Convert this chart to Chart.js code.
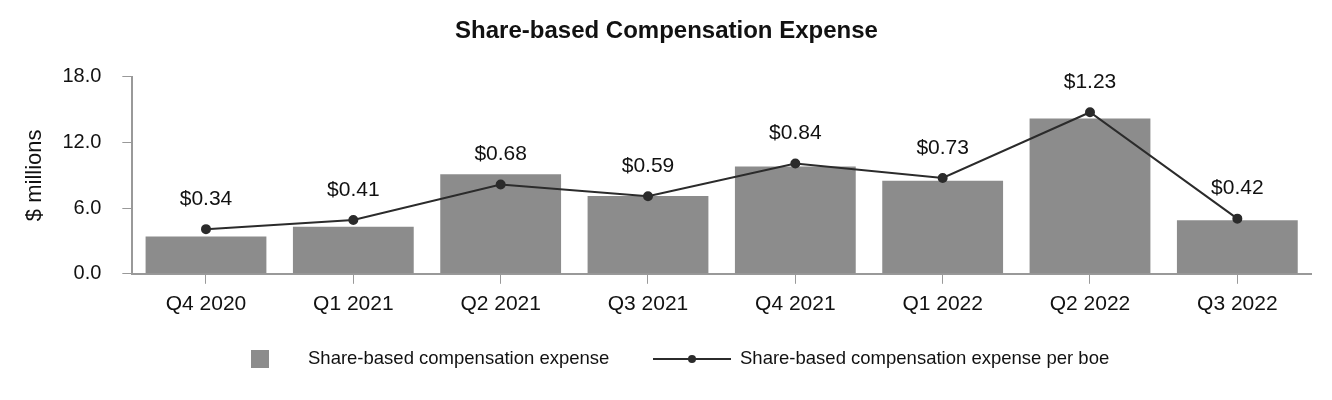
<!DOCTYPE html>
<html>
<head>
<meta charset="utf-8">
<script src="https://cdn.jsdelivr.net/npm/chart.js@4.4.0/dist/chart.umd.min.js"></script>
<style>
  html, body { margin: 0; padding: 0; background: #fff; }
  #wrap { width: 1332px; height: 400px; }
</style>
</head>
<body>
<div id="wrap"><canvas id="sbcChart"></canvas></div>
<script>
const quarters = ['Q4 2020', 'Q1 2021', 'Q2 2021', 'Q3 2021', 'Q4 2021', 'Q1 2022', 'Q2 2022', 'Q3 2022'];
const expense = [3.4, 4.3, 9.1, 7.1, 9.8, 8.5, 14.2, 4.9]; // $ millions
const perBoe = [0.34, 0.41, 0.68, 0.59, 0.84, 0.73, 1.23, 0.42]; // $ per boe
const yTicks = [0, 6, 12, 18];

const FONT = 'Liberation Sans, Arial, sans-serif';

// draws the $ labels above the line points
const pointLabels = {
  id: 'pointLabels',
  afterDatasetsDraw(chart) {
    const ctx = chart.ctx;
    const meta = chart.getDatasetMeta(1);
    ctx.save();
    ctx.font = '21px ' + FONT;
    ctx.fillStyle = '#111';
    ctx.textAlign = 'center';
    ctx.textBaseline = 'middle';
    meta.data.forEach((pt, i) => {
      ctx.fillText('$' + perBoe[i].toFixed(2), pt.x, pt.y - 30);
    });
    ctx.restore();
  }
};

// legend at the bottom, spaced like the original
const bottomLegend = {
  id: 'bottomLegend',
  afterDraw(chart) {
    const ctx = chart.ctx;
    const y = 359;
    ctx.save();
    ctx.font = '18.5px ' + FONT;
    ctx.textBaseline = 'middle';
    ctx.fillStyle = '#8c8c8c';
    ctx.fillRect(251, y - 9, 18, 18);
    ctx.fillStyle = '#111';
    ctx.fillText('Share-based compensation expense', 308, y);
    ctx.strokeStyle = '#2b2b2b';
    ctx.lineWidth = 2;
    ctx.beginPath();
    ctx.moveTo(653, y);
    ctx.lineTo(731, y);
    ctx.stroke();
    ctx.fillStyle = '#2b2b2b';
    ctx.beginPath();
    ctx.arc(692, y, 4, 0, Math.PI * 2);
    ctx.fill();
    ctx.fillStyle = '#111';
    ctx.fillText('Share-based compensation expense per boe', 740, y);
    ctx.restore();
  }
};

new Chart(document.getElementById('sbcChart').getContext('2d'), {
  type: 'bar',
  data: {
    labels: quarters,
    datasets: [{
      type: 'bar',
      label: 'Share-based compensation expense',
      data: expense,
      backgroundColor: '#8c8c8c',
      borderWidth: 0,
      barPercentage: 0.82,
      categoryPercentage: 1.0,
      yAxisID: 'y',
      order: 2
    }, {
      type: 'line',
      label: 'Share-based compensation expense per boe',
      data: perBoe,
      borderColor: '#2b2b2b',
      backgroundColor: '#2b2b2b',
      borderWidth: 2,
      pointRadius: 4,
      pointHoverRadius: 4,
      tension: 0,
      yAxisID: 'y2',
      order: 1
    }]
  },
  options: {
    responsive: true,
    maintainAspectRatio: false,
    animation: false,
    layout: { padding: { top: 0, right: 21, bottom: 75, left: 22 } },
    plugins: {
      legend: { display: false },
      tooltip: { enabled: false },
      title: {
        display: true,
        text: 'Share-based Compensation Expense',
        color: '#111',
        font: { family: FONT, size: 24, weight: 'bold' },
        padding: { top: 17, bottom: 31 }
      }
    },
    scales: {
      x: {
        offset: true,
        grid: { display: true, drawOnChartArea: false, offset: false, tickLength: 10, color: '#999' },
        border: { display: true, color: '#999', width: 2 },
        ticks: { color: '#111', font: { family: FONT, size: 21 }, padding: 8 }
      },
      y: {
        min: 0,
        max: 18,
        afterBuildTicks(axis) { axis.ticks = yTicks.map(v => ({ value: v })); },
        grid: { display: true, drawOnChartArea: false, tickLength: 10, color: '#999' },
        border: { display: true, color: '#999', width: 2 },
        ticks: { color: '#111', font: { family: FONT, size: 20 }, padding: 21, callback: v => v.toFixed(1) },
        title: { display: true, text: '$ millions', color: '#111', font: { family: FONT, size: 22 }, padding: { top: 0, bottom: -7 } }
      },
      y2: {
        display: false,
        min: 0,
        max: 1.5
      }
    }
  },
  plugins: [pointLabels, bottomLegend]
});
</script>
</body>
</html>
